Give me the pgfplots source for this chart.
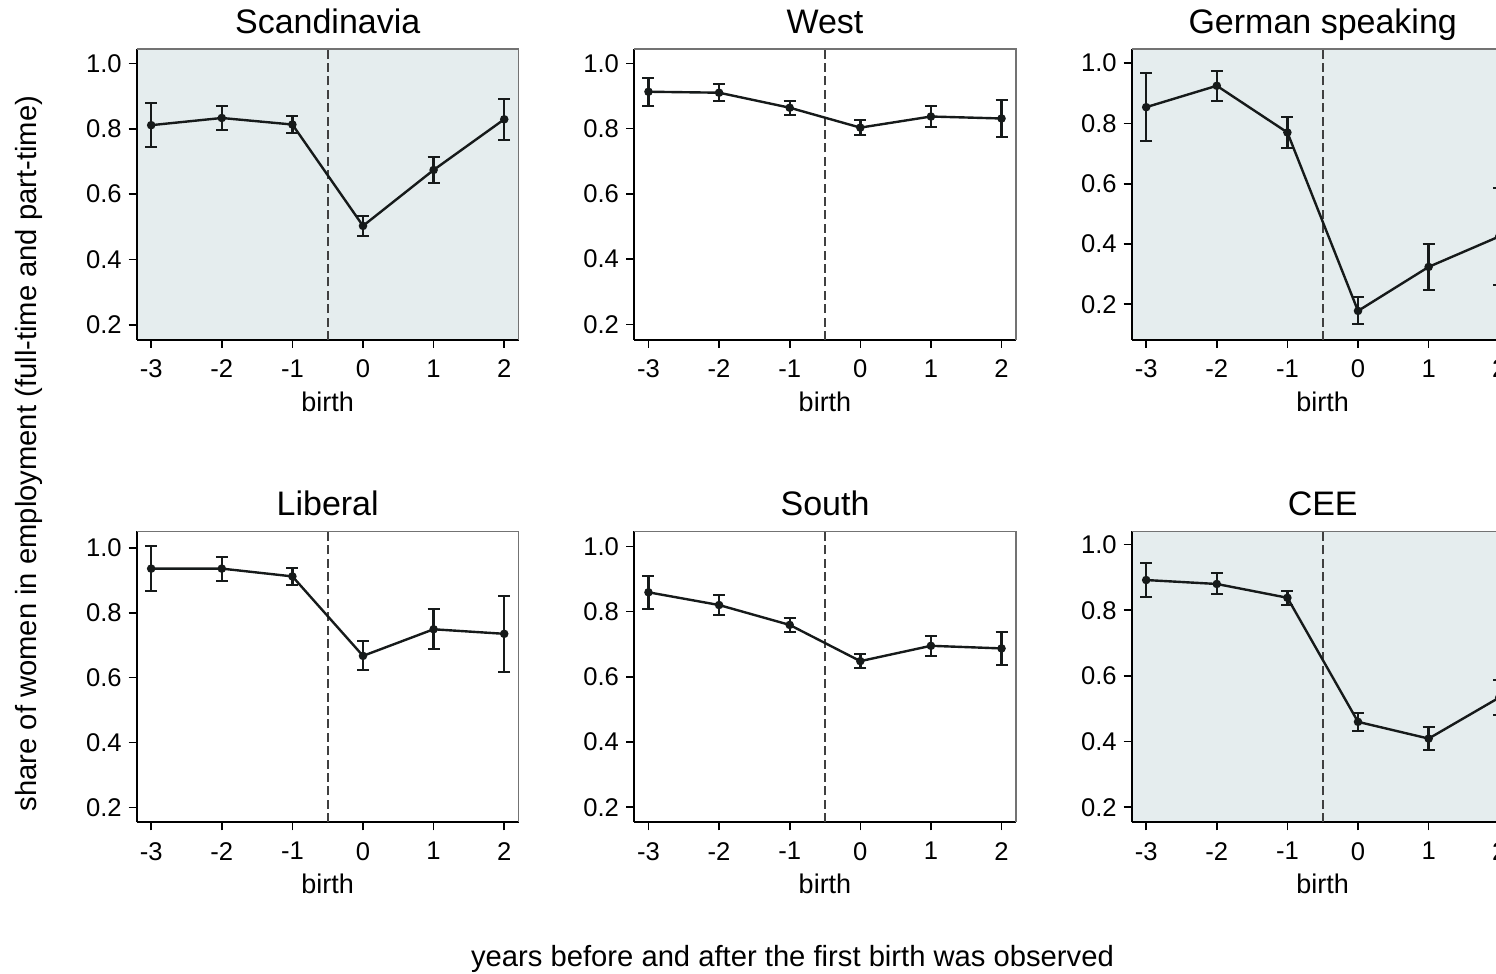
\documentclass[border=0pt]{standalone}
\usepackage{fontspec}
\setmainfont{Liberation Sans}
\usepackage{pgfplots}
\pgfplotsset{compat=1.18}
\definecolor{bgc}{RGB}{229,237,238}
\definecolor{ln}{RGB}{22,26,26}
\tikzset{
 vline/.style={black!75, line width=1bp, dash pattern=on 4.5bp off 2.2bp},
 pframe/.style={black!55, line width=0.6bp},
}
\pgfplotsset{
 panel/.style={
  scale only axis, width=191bp, height=145.5bp,
  xmin=-3.205, xmax=2.205,
  xtick={-3,-2,-1,0,1,2}, xticklabels={-3,-2,-1,0,1,2},
  ytick={0.2,0.4,0.6,0.8,1.0}, yticklabels={0.2,0.4,0.6,0.8,1.0},
  axis x line*=bottom, axis y line*=left,
  axis line style={-, line width=1bp, black},
  tick align=outside, major tick length=4bp,
  every tick/.style={black, line width=0.8bp},
  ticklabel style={font=\fontsize{12.8bp}{14bp}\selectfont},
  xticklabel style={yshift=-2.5bp},
  xlabel={birth},
  xlabel style={font=\fontsize{13.5bp}{16bp}\selectfont, at={(rel axis cs:0.5,0)}, anchor=base, yshift=-35.8bp},
  title style={font=\fontsize{17bp}{20bp}\selectfont, at={(rel axis cs:0.5,1)}, anchor=base, yshift=2bp},
  clip=false,
  anchor=south west,
 },
 shaded/.style={axis background/.style={fill=bgc}},
 ser/.style={ln, line width=1.2bp, mark=*, mark size=1.5bp, mark options={fill=ln, draw=ln, solid},
   error bars/.cd, y dir=both, y explicit,
   error bar style={line width=1.2bp, ln},
   error mark options={rotate=90, mark size=3bp, line width=1bp, ln}},
}
\newcommand{\decor}{%
  \draw[vline] ({axis cs:-0.5,0.5}|-{rel axis cs:0,0}) -- ({axis cs:-0.5,0.5}|-{rel axis cs:0,1});
  \draw[pframe] (rel axis cs:0,1) -- (rel axis cs:1,1) -- (rel axis cs:1,0);
}
\begin{document}
\begin{tikzpicture}
\useasboundingbox (0,0) rectangle (748bp,487bp);
\clip (0,0) rectangle (748bp,487bp);

% Scandinavia
\begin{axis}[panel, shaded, at={(68.35bp,317bp)}, ymin=0.154, ymax=1.044, title={Scandinavia}]
\decor
\addplot[ser] coordinates {
 (-3,0.811) +- (0,0.068)
 (-2,0.833) +- (0,0.036)
 (-1,0.813) +- (0,0.025)
 (0,0.503) +- (0,0.030)
 (1,0.674) +- (0,0.041)
 (2,0.829) +- (0,0.062)
};
\end{axis}

% West
\begin{axis}[panel, at={(317bp,317bp)}, ymin=0.152, ymax=1.044, title={West}]
\decor
\addplot[ser] coordinates {
 (-3,0.913) +- (0,0.043)
 (-2,0.910) +- (0,0.026)
 (-1,0.864) +- (0,0.021)
 (0,0.803) +- (0,0.024)
 (1,0.837) +- (0,0.031)
 (2,0.831) +- (0,0.056)
};
\end{axis}

% German speaking
\begin{axis}[panel, shaded, at={(565.85bp,317bp)}, ymin=0.0815, ymax=1.047, title={German speaking}]
\decor
\addplot[ser] coordinates {
 (-3,0.854) +- (0,0.113)
 (-2,0.925) +- (0,0.050)
 (-1,0.770) +- (0,0.053)
 (0,0.178) +- (0,0.045)
 (1,0.324) +- (0,0.076)
 (2,0.425) +- (0,0.160)
};
\end{axis}

% Liberal
\begin{axis}[panel, at={(68.35bp,75.85bp)}, ymin=0.154, ymax=1.051, title={Liberal}]
\decor
\addplot[ser] coordinates {
 (-3,0.936) +- (0,0.070)
 (-2,0.936) +- (0,0.037)
 (-1,0.912) +- (0,0.027)
 (0,0.667) +- (0,0.045)
 (1,0.749) +- (0,0.062)
 (2,0.735) +- (0,0.117)
};
\end{axis}

% South
\begin{axis}[panel, at={(317bp,75.85bp)}, ymin=0.154, ymax=1.046, title={South}]
\decor
\addplot[ser] coordinates {
 (-3,0.859) +- (0,0.051)
 (-2,0.820) +- (0,0.030)
 (-1,0.759) +- (0,0.022)
 (0,0.648) +- (0,0.022)
 (1,0.695) +- (0,0.030)
 (2,0.687) +- (0,0.050)
};
\end{axis}

% CEE
\begin{axis}[panel, shaded, at={(565.85bp,75.85bp)}, ymin=0.154, ymax=1.0405, title={CEE}]
\decor
\addplot[ser] coordinates {
 (-3,0.892) +- (0,0.053)
 (-2,0.880) +- (0,0.032)
 (-1,0.838) +- (0,0.022)
 (0,0.460) +- (0,0.027)
 (1,0.409) +- (0,0.035)
 (2,0.534) +- (0,0.054)
};
\end{axis}

\node[rotate=90, anchor=base, font=\fontsize{14.6bp}{17bp}\selectfont] at (18bp,260.25bp) {share of women in employment (full-time and part-time)};
\node[anchor=base, font=\fontsize{14.6bp}{17bp}\selectfont] at (396.25bp,4bp) {years before and after the first birth was observed};
\end{tikzpicture}
\end{document}
